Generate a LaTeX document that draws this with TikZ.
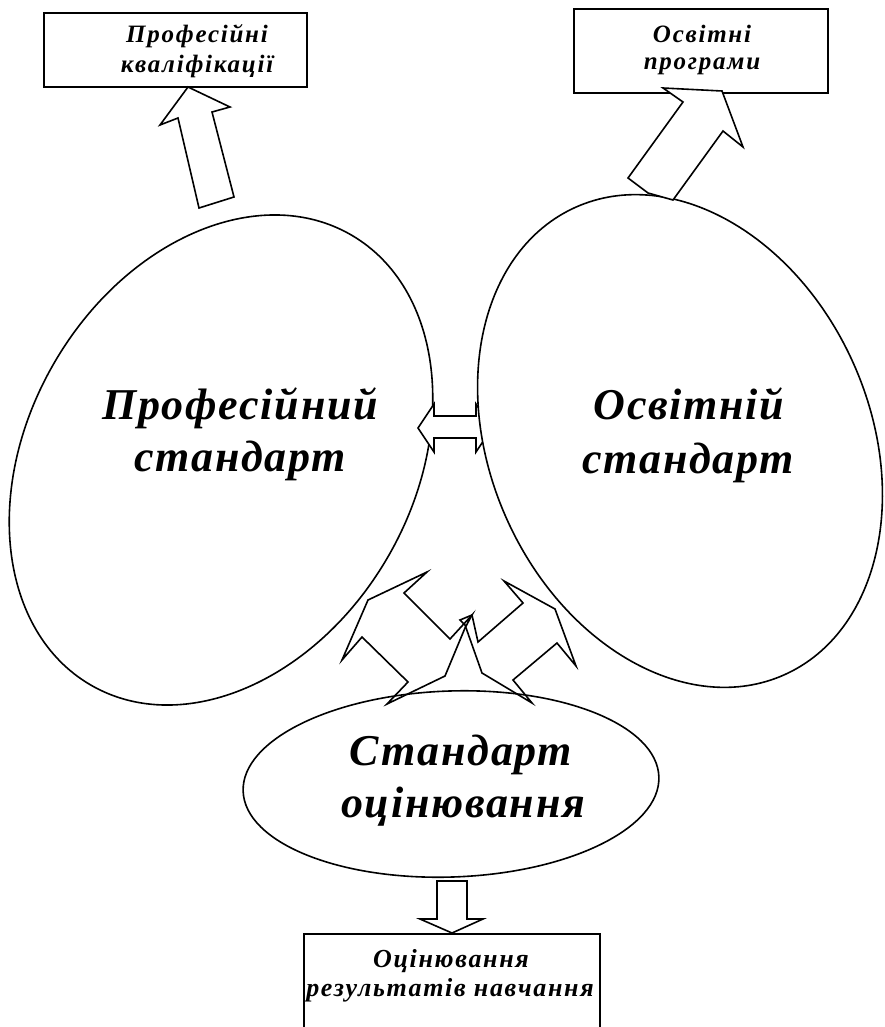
\documentclass[tikz,border=0pt]{standalone}
\usepackage{fontspec}
\newfontfamily\bigfont[LetterSpace=4]{Liberation Serif}
\newfontfamily\boxfont[LetterSpace=7]{Liberation Serif}
\newfontfamily\lowfont[LetterSpace=6.5]{Liberation Serif}
\usetikzlibrary{shapes.geometric}
\begin{document}
\begin{tikzpicture}[x=1pt,y=-1pt,
  outline/.style={draw=black, line width=1.6pt},
  oval/.style={outline, ellipse, fill=white, inner sep=0pt},
  box/.style={outline, rectangle, inner sep=0pt},
  blockarrow/.style={outline, fill=white, line join=miter},
  openarrow/.style={outline, line join=miter},
  biglabel/.style={font=\bigfont\bfseries\itshape\fontsize{44}{52}\selectfont, anchor=base, inner sep=0pt},
  boxlabel/.style={font=\boxfont\bfseries\itshape\fontsize{25}{30}\selectfont, anchor=base, inner sep=0pt},
  lowlabel/.style={font=\lowfont\bfseries\itshape\fontsize{26}{30}\selectfont, anchor=base, inner sep=0pt}]

% canvas
\fill[white] (0,0) rectangle (884,1027);
\useasboundingbox (0,0) rectangle (884,1027);

% three standards
\node[oval, minimum width=386pt, minimum height=520pt, rotate=-30] (prof) at (221,460) {};
% two-way arrow between the upper standards
\draw[blockarrow] (418,428) -- (434,404) -- (434,416) -- (476,416) -- (476,404) -- (492,428)
  -- (476,452) -- (476,438) -- (434,438) -- (434,452) -- cycle;
\node[oval, minimum width=380pt, minimum height=512pt, rotate=24] (osv) at (680,441) {};
\node[oval, minimum width=416pt, minimum height=186pt, rotate=2] (ocin) at (451,784) {};

% arrows from the assessment standard up to the other two
\draw[openarrow] (427,572) -- (368,600) -- (342,660) -- (362,637) -- (408,682) -- (387,704)
  -- (445,676) -- (465,628) -- (472,615) -- (450,639) -- (404,593) -- cycle;
\draw[openarrow] (472,615) -- (478,642) -- (523,603) -- (504,581) -- (555,609) -- (576,666)
  -- (557,643) -- (513,680) -- (532,703) -- (482,673) -- (465,625) -- (460,620) -- cycle;

% result boxes
\node[box, minimum width=263pt, minimum height=74pt] (kval) at (175.5,50) {};
\node[box, minimum width=254pt, minimum height=84pt] (prog) at (701,51) {};
\node[box, minimum width=296pt, minimum height=130pt] (rez) at (452,999) {};

% block arrows to the boxes
\draw[blockarrow] (188,87) -- (230,107) -- (212,112) -- (234,197) -- (199,208) -- (178,118)
  -- (160,125) -- cycle;
\draw[blockarrow] (663,88) -- (722,91) -- (743,147) -- (723,131) -- (673,200) -- (648,193)
  -- (628,178) -- (683,102) -- cycle;
\draw[blockarrow] (437,881) -- (467,881) -- (467,919) -- (483,919) -- (452,933) -- (420,919)
  -- (437,919) -- cycle;

% labels
\node[biglabel] (profA) at (240,419) {Професійний};
\node[biglabel] (profB) at (240,471) {стандарт};
\node[biglabel] (osvA) at (689,419) {Освітній};
\node[biglabel] (osvB) at (688,473) {стандарт};
\node[biglabel] (ocinA) at (461,765) {Стандарт};
\node[biglabel] (ocinB) at (463,817) {оцінювання};

\node[boxlabel] (kvalA) at (197,43) {Професійні};
\node[boxlabel] (kvalB) at (197,73) {кваліфікації};
\node[boxlabel] (progA) at (702,43) {Освітні};
\node[boxlabel] (progB) at (702,70) {програми};
\node[lowlabel] (rezA) at (451,967) {Оцінювання};
\node[lowlabel] (rezB) at (450,996) {результатів навчання};
\end{tikzpicture}
\end{document}
